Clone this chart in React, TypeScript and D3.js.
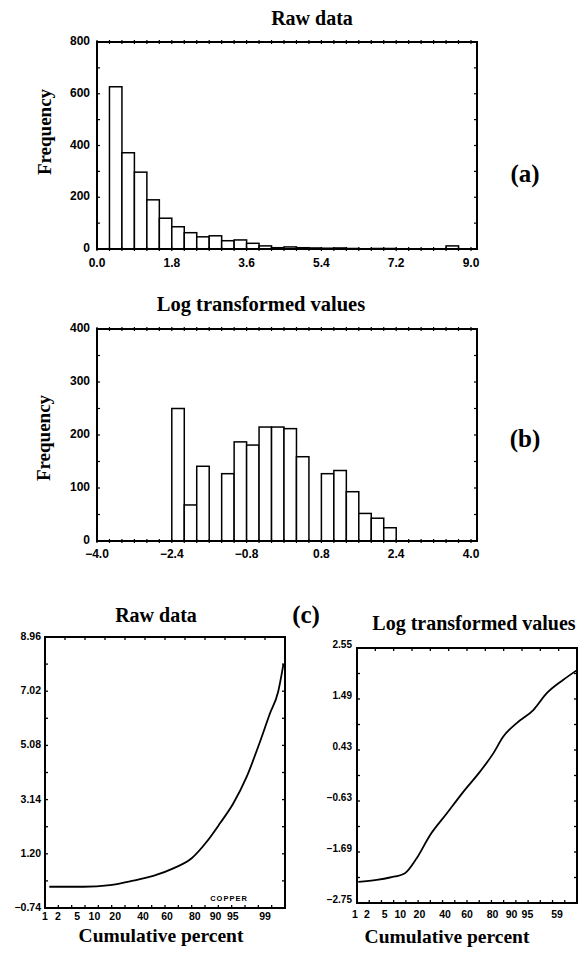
import React from "react";
import * as d3 from "d3";

// ---------- DATA ----------
// (a) raw data histogram: 30 bins of width 0.3 from 0.0 to 9.0
const rawBinCounts = [
  0, 627, 372, 297, 190, 119, 86, 63, 47, 51, 32, 35, 22, 12, 5,
  8, 5, 4, 3, 4, 2, 1, 2, 2, 1, 0, 0, 0, 12, 0,
];
const rawHistXTicks = [0, 1.8, 3.6, 5.4, 7.2, 9.0];
const rawHistYTicks = [0, 200, 400, 600, 800];

// (b) log-transformed histogram: 30 bins from -4.0 to 4.0
const logBinCounts = [
  0, 0, 0, 0, 0, 0, 250, 68, 141, 0, 127, 187, 181, 215, 215,
  212, 159, 0, 127, 133, 93, 52, 43, 25, 0, 0, 0, 0, 0, 0,
];
const logHistXTicks = [-4.0, -2.4, -0.8, 0.8, 2.4, 4.0];
const logHistYTicks = [0, 100, 200, 300, 400];

// (c) cumulative probability plots
const rawCumPercent = [1.27, 6.48, 17.08, 32.31, 48.56, 65.06, 78.11, 86.28, 91.53, 95.1, 97.38, 98.68, 99.25, 99.54, 99.67];
const rawCumValue = [0.02, 0.02, 0.08, 0.24, 0.41, 0.68, 1.04, 1.63, 2.29, 3.0, 3.96, 5.21, 6.23, 7.0, 7.99];
const rawProbYTicks = [-0.74, 1.2, 3.14, 5.08, 7.02, 8.96];

const logCumPercent = [1.22, 3.39, 6.41, 12.0, 18.25, 27.46, 41.53, 56.67, 70.99, 80.48, 86.21, 91.91, 96.25, 98.17, 99.33, 99.72];
const logCumValue = [-2.31, -2.27, -2.22, -2.13, -1.82, -1.34, -0.89, -0.44, -0.02, 0.36, 0.71, 0.99, 1.26, 1.61, 1.89, 2.08];
const logProbYTicks = [-2.75, -1.69, -0.63, 0.43, 1.49, 2.55];

const percentTicks = [1, 2, 5, 10, 20, 40, 60, 80, 90, 95, 99];
const rawPercentLabels = ["1", "2", "5", "10", "20", "40", "60", "80", "90", "95", "99"];
const logPercentLabels = ["1", "2", "5", "10", "20", "40", "60", "80", "90", "95", "59"];

// ---------- helpers ----------
function normInv(p: number): number {
  const a = [-3.969683028665376e1, 2.209460984245205e2, -2.759285104469687e2, 1.38357751867269e2, -3.066479806614716e1, 2.506628277459239];
  const b = [-5.447609879822406e1, 1.615858368580409e2, -1.556989798598866e2, 6.680131188771972e1, -1.328068155288572e1];
  const c = [-7.784894002430293e-3, -3.223964580411365e-1, -2.400758277161838, -2.549732539343734, 4.374664141464968, 2.938163982698783];
  const d = [7.784695709041462e-3, 3.224671290700398e-1, 2.445134137142996, 3.754408661907416];
  const plow = 0.02425;
  if (p < plow) {
    const q = Math.sqrt(-2 * Math.log(p));
    return (((((c[0] * q + c[1]) * q + c[2]) * q + c[3]) * q + c[4]) * q + c[5]) /
      ((((d[0] * q + d[1]) * q + d[2]) * q + d[3]) * q + 1);
  }
  if (p > 1 - plow) {
    const q = Math.sqrt(-2 * Math.log(1 - p));
    return -(((((c[0] * q + c[1]) * q + c[2]) * q + c[3]) * q + c[4]) * q + c[5]) /
      ((((d[0] * q + d[1]) * q + d[2]) * q + d[3]) * q + 1);
  }
  const q = p - 0.5;
  const r = q * q;
  return ((((((a[0] * r + a[1]) * r + a[2]) * r + a[3]) * r + a[4]) * r + a[5]) * q) /
    (((((b[0] * r + b[1]) * r + b[2]) * r + b[3]) * r + b[4]) * r + 1);
}

const SERIF = "'Liberation Serif', 'Times New Roman', serif";
const SANS = "'Liberation Sans', Arial, sans-serif";

type Frame = { left: number; right: number; top: number; bottom: number };

function Histogram(props: {
  counts: number[];
  domain: [number, number];
  xRange: [number, number];
  yMax: number;
  frame: Frame;
  xTicks: number[];
  yTicks: number[];
  xLabelY: number;
  minorY: number;
}) {
  const { counts, domain, xRange, yMax, frame, xTicks, yTicks, xLabelY, minorY } = props;
  const x = d3.scaleLinear().domain(domain).range(xRange);
  const y = d3.scaleLinear().domain([0, yMax]).range([frame.bottom, frame.top]);
  const bw = (domain[1] - domain[0]) / counts.length;
  const fmt = d3.format(".1f");
  const edges = d3.range(0, counts.length + 1).map((i) => x(domain[0] + i * bw));
  const yMinor = d3.range(0, yMax + 0.001, minorY);
  return (
    <g>
      {counts.map((c, i) =>
        c > 0 ? (
          <rect
            key={i}
            x={x(domain[0] + i * bw)}
            y={y(c)}
            width={x(domain[0] + (i + 1) * bw) - x(domain[0] + i * bw)}
            height={y(0) - y(c)}
            fill="white"
            stroke="black"
            strokeWidth={1.5}
          />
        ) : null
      )}
      <rect
        x={frame.left}
        y={frame.top}
        width={frame.right - frame.left}
        height={frame.bottom - frame.top}
        fill="none"
        stroke="black"
        strokeWidth={2}
      />
      {edges.map((ex, i) => (
        <g key={"e" + i}>
          <line x1={ex} x2={ex} y1={frame.top - 2} y2={frame.top + 2} stroke="black" strokeWidth={1.2} />
          <line x1={ex} x2={ex} y1={frame.bottom - 2} y2={frame.bottom + 2} stroke="black" strokeWidth={1.2} />
        </g>
      ))}
      {yMinor.map((v, i) => (
        <g key={"m" + i}>
          <line x1={frame.left} x2={frame.left + 3} y1={y(v)} y2={y(v)} stroke="black" strokeWidth={1.2} />
          <line x1={frame.right - 3} x2={frame.right} y1={y(v)} y2={y(v)} stroke="black" strokeWidth={1.2} />
        </g>
      ))}
      {yTicks.map((v) => (
        <text
          key={"y" + v}
          x={frame.left - 7}
          y={y(v) + 3}
          textAnchor="end"
          fontFamily={SANS}
          fontWeight={700}
          fontSize={12}
        >
          {String(v)}
        </text>
      ))}
      {xTicks.map((v) => (
        <text
          key={"x" + v}
          x={x(v)}
          y={xLabelY}
          textAnchor="middle"
          fontFamily={SANS}
          fontWeight={700}
          fontSize={12}
        >
          {fmt(v)}
        </text>
      ))}
    </g>
  );
}

function ProbPlot(props: {
  percents: number[];
  values: number[];
  frame: Frame;
  xRange: [number, number];
  yDomain: [number, number];
  yTicks: number[];
  tickLabels: string[];
  xLabelY: number;
  yLabelX: number;
  yLabelDy: number;
  yFont: number;
}) {
  const { percents, values, frame, xRange, yDomain, yTicks, tickLabels, xLabelY, yLabelX, yLabelDy, yFont } = props;
  const zmax = normInv(0.99);
  const x = d3.scaleLinear().domain([-zmax, zmax]).range(xRange);
  const y = d3.scaleLinear().domain(yDomain).range([frame.bottom, frame.top]);
  const pts = percents.map((p, i) => [x(normInv(p / 100)), y(values[i])] as [number, number]);
  const line = d3.line().curve(d3.curveMonotoneX)(pts) || "";
  const fmt = d3.format(".2f");
  const topTicks = d3.range(0, 13).map((i) => frame.left + ((frame.right - frame.left) * i) / 12);
  const botTicks = d3.range(0, 19).map((i) => frame.left + ((frame.right - frame.left) * i) / 18);
  const step = (yDomain[1] - yDomain[0]) / 10;
  const sideTicks = d3.range(0, 11).map((i) => y(yDomain[0] + i * step));
  return (
    <g>
      <rect
        x={frame.left}
        y={frame.top}
        width={frame.right - frame.left}
        height={frame.bottom - frame.top}
        fill="none"
        stroke="black"
        strokeWidth={2}
      />
      {topTicks.map((tx, i) => (
        <line key={"t" + i} x1={tx} x2={tx} y1={frame.top} y2={frame.top + 3} stroke="black" strokeWidth={1.3} />
      ))}
      {botTicks.map((tx, i) => (
        <line key={"b" + i} x1={tx} x2={tx} y1={frame.bottom} y2={frame.bottom - 3} stroke="black" strokeWidth={1.3} />
      ))}
      {sideTicks.map((ty, i) => (
        <g key={"s" + i}>
          <line x1={frame.left} x2={frame.left + 3} y1={ty} y2={ty} stroke="black" strokeWidth={1.3} />
          <line x1={frame.right - 3} x2={frame.right} y1={ty} y2={ty} stroke="black" strokeWidth={1.3} />
        </g>
      ))}
      <path d={line} fill="none" stroke="black" strokeWidth={1.8} />
      {yTicks.map((v) => (
        <text
          key={"y" + v}
          x={yLabelX}
          y={y(v) + yLabelDy}
          textAnchor="end"
          fontFamily={SANS}
          fontWeight={700}
          fontSize={yFont}
        >
          {fmt(v)}
        </text>
      ))}
      {percentTicks.map((p, i) => (
        <text
          key={"x" + p}
          x={x(normInv(p / 100))}
          y={xLabelY}
          textAnchor="middle"
          fontFamily={SANS}
          fontWeight={700}
          fontSize={10.5}
        >
          {tickLabels[i]}
        </text>
      ))}
    </g>
  );
}

export default function App() {
  const boldSerif = { fontFamily: SERIF, fontWeight: 700 as const };
  return (
    <svg
      width={580}
      height={955}
      viewBox="0 0 580 955"
      style={{ position: "absolute", left: 0, top: 0, background: "white" }}
    >
      <rect x={0} y={0} width={580} height={955} fill="white" />

      {/* (a) */}
      <text x={312} y={25} textAnchor="middle" fontSize={20} {...boldSerif}>Raw data</text>
      <Histogram
        counts={rawBinCounts}
        domain={[0, 9]}
        xRange={[97, 471]}
        yMax={800}
        frame={{ left: 97, right: 477, top: 42, bottom: 249 }}
        xTicks={rawHistXTicks}
        yTicks={rawHistYTicks}
        xLabelY={267}
        minorY={100}
      />
      <text transform="translate(51,132) rotate(-90)" textAnchor="middle" fontSize={19} {...boldSerif}>Frequency</text>
      <text x={525} y={182} textAnchor="middle" fontSize={25} {...boldSerif}>(a)</text>

      {/* (b) */}
      <text x={261} y={311} textAnchor="middle" fontSize={20.5} {...boldSerif}>Log transformed values</text>
      <Histogram
        counts={logBinCounts}
        domain={[-4, 4]}
        xRange={[97, 471]}
        yMax={400}
        frame={{ left: 97, right: 477, top: 329, bottom: 541 }}
        xTicks={logHistXTicks}
        yTicks={logHistYTicks}
        xLabelY={558}
        minorY={50}
      />
      <text transform="translate(50,438) rotate(-90)" textAnchor="middle" fontSize={19} {...boldSerif}>Frequency</text>
      <text x={525} y={447} textAnchor="middle" fontSize={25} {...boldSerif}>(b)</text>

      {/* (c) */}
      <text x={306} y={623} textAnchor="middle" fontSize={25} {...boldSerif}>(c)</text>
      <text x={156} y={622} textAnchor="middle" fontSize={20} {...boldSerif}>Raw data</text>
      <ProbPlot
        percents={rawCumPercent}
        values={rawCumValue}
        frame={{ left: 45, right: 285, top: 637, bottom: 908 }}
        xRange={[45, 265]}
        yDomain={[-0.74, 8.96]}
        yTicks={rawProbYTicks}
        tickLabels={rawPercentLabels}
        xLabelY={920}
        yLabelX={41}
        yLabelDy={3}
        yFont={10.5}
      />
      <text x={229} y={901} textAnchor="middle" fontFamily={SANS} fontWeight={700} fontSize={7.5} letterSpacing={1}>COPPER</text>
      <text x={161} y={942} textAnchor="middle" fontSize={19.5} {...boldSerif}>Cumulative percent</text>

      <text x={474} y={630} textAnchor="middle" fontSize={20} {...boldSerif}>Log transformed values</text>
      <ProbPlot
        percents={logCumPercent}
        values={logCumValue}
        frame={{ left: 357, right: 577, top: 648, bottom: 903 }}
        xRange={[355, 557]}
        yDomain={[-2.75, 2.55]}
        yTicks={logProbYTicks}
        tickLabels={logPercentLabels}
        xLabelY={918}
        yLabelX={352}
        yLabelDy={0}
        yFont={10}
      />
      <text x={447} y={943} textAnchor="middle" fontSize={19.5} {...boldSerif}>Cumulative percent</text>
    </svg>
  );
}
